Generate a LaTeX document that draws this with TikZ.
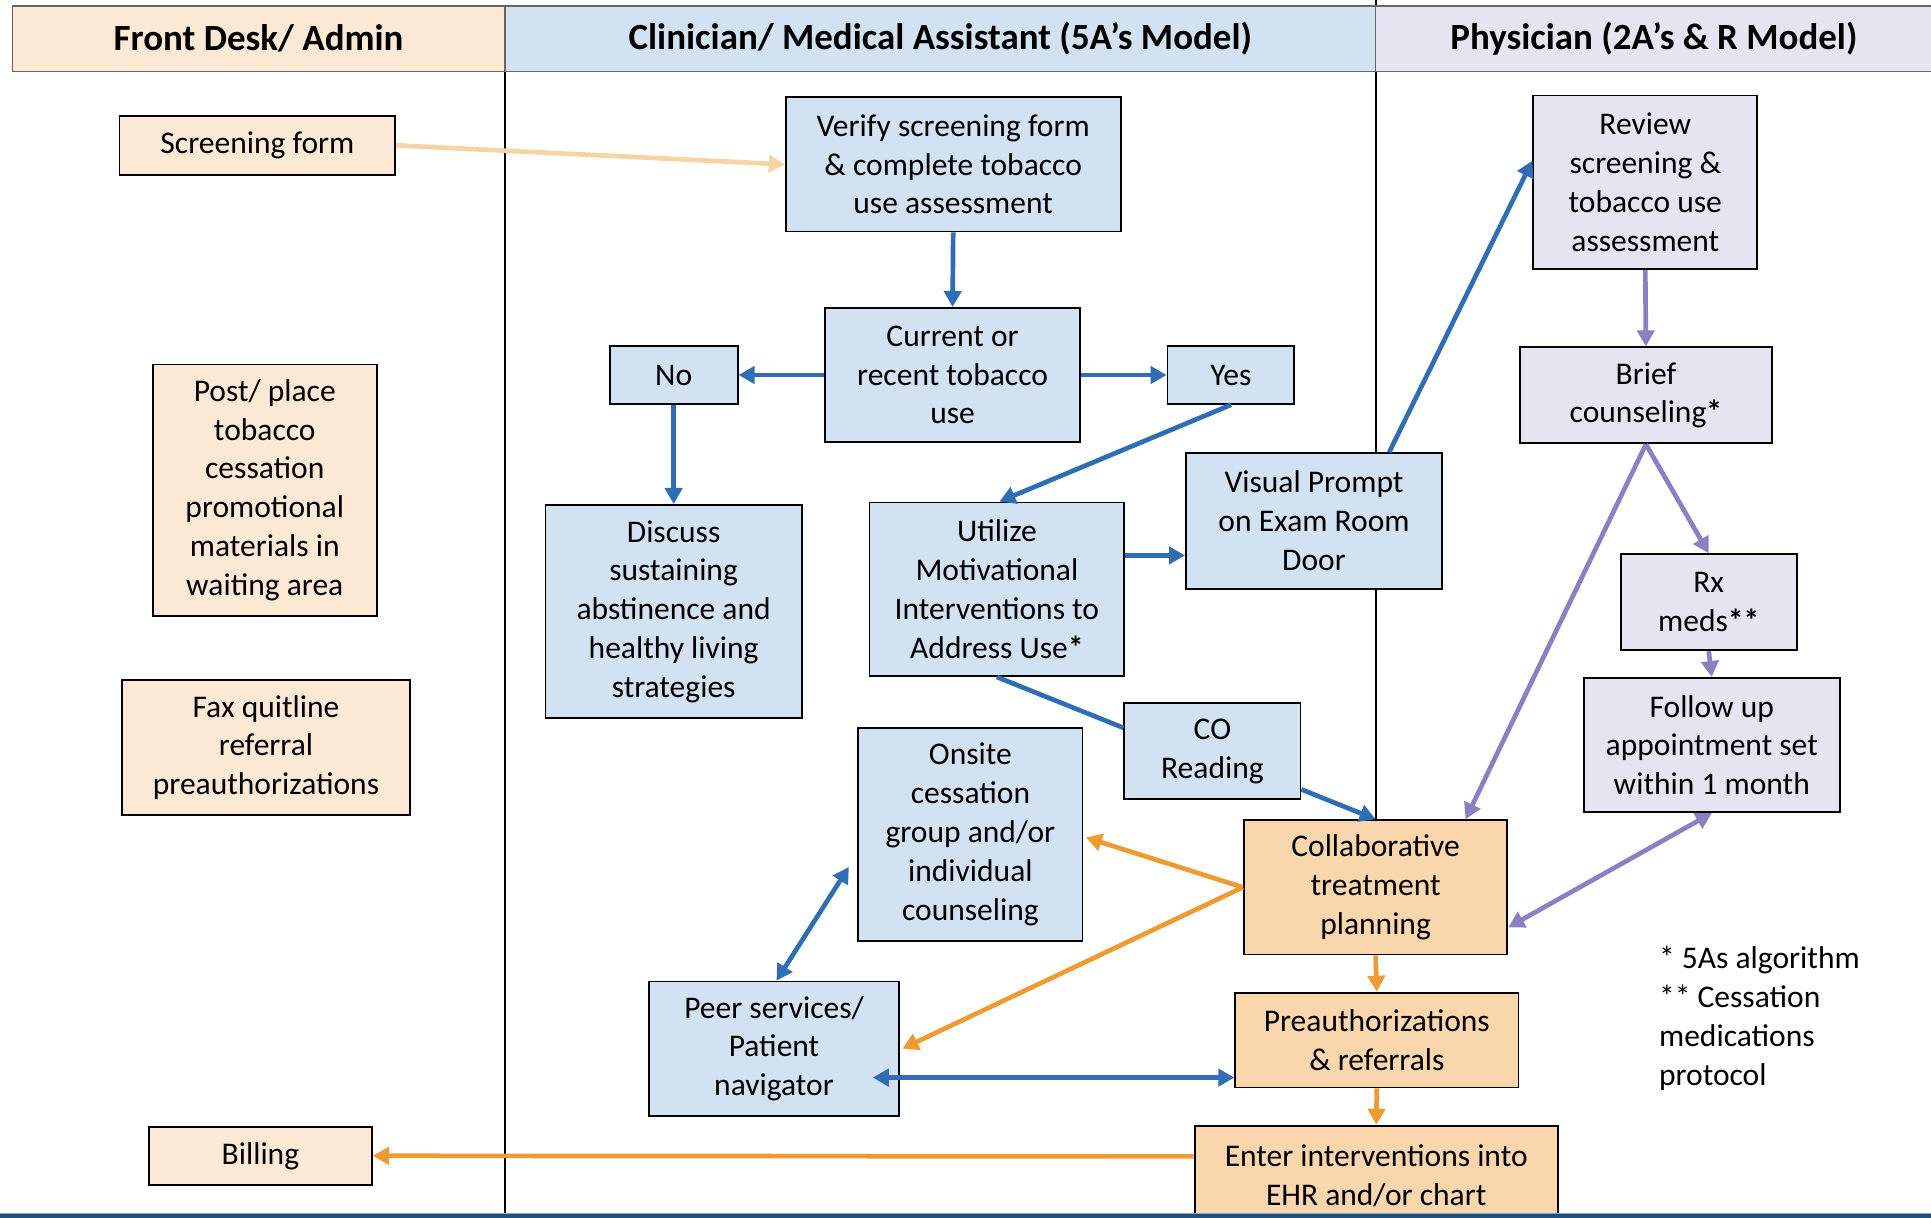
\documentclass[tikz,border=0pt]{standalone}
\usepackage{fontspec}
\setmainfont{Carlito}
\usetikzlibrary{arrows.meta}
\definecolor{peach}{HTML}{FCE9D5}
\definecolor{lblue}{HTML}{D3E2F2}
\definecolor{lav}{HTML}{E6E4F1}
\definecolor{orbox}{HTML}{F9D6AC}
\definecolor{barrow}{HTML}{2F6EB5}
\definecolor{oarrow}{HTML}{F09B32}
\definecolor{parrow}{HTML}{8A80C4}
\definecolor{pearrow}{HTML}{F8D3A5}
\definecolor{band}{HTML}{1F4E79}
\begin{document}
\begin{tikzpicture}[x=1pt,y=-1pt,
  bx/.style={draw=black, line width=1.5pt, inner sep=0pt, align=center, font=\fontsize{25.6}{31.5}\selectfont},
  hdr/.style={draw=black!60, line width=1.3pt, inner sep=0pt, font=\fontsize{30}{36}\selectfont\bfseries},
  ar/.style={line width=3.8pt, -{Triangle[length=13pt,width=14pt]}},
  biar/.style={line width=3.8pt, {Triangle[length=13pt,width=14pt]}-{Triangle[length=13pt,width=14pt]}},
  ln/.style={line width=3.8pt}]
\useasboundingbox (0,0) rectangle (1568,989);
\fill[white] (0,0) rectangle (1568,989);
% lane lines
\draw[line width=1.5pt] (410,5) -- (410,985);
\draw[line width=1.5pt] (1117,0) -- (1117,665);
% headers
\node[hdr, fill=peach, minimum width=400, minimum height=53] (h1) at (210,31.5) {Front Desk/ Admin};
\node[hdr, fill=lblue, minimum width=707, minimum height=53] (h2) at (763.5,31.5) {Clinician/ Medical Assistant (5A’s Model)};
\node[hdr, fill=lav, minimum width=452, minimum height=53] (h3) at (1343,31.5) {Physician (2A’s \& R Model)};
% front desk
\node[bx, fill=peach, minimum width=224, minimum height=48] (sf) at (209,118) {Screening form};
\node[bx, fill=peach, minimum width=182, minimum height=204] (post) at (215,398) {Post/ place\\tobacco\\cessation\\promotional\\materials in\\waiting area};
\node[bx, fill=peach, minimum width=234, minimum height=110] (fax) at (216,607) {Fax quitline\\referral\\preauthorizations};
\node[bx, fill=peach, minimum width=181, minimum height=47] (bill) at (211.5,938.5) {Billing};
% clinician
\node[bx, fill=lblue, minimum width=272, minimum height=109] (ver) at (774,133.5) {Verify screening form\\\& complete tobacco\\use assessment};
\node[bx, fill=lblue, minimum width=207, minimum height=109] (cur) at (773.5,304.5) {Current or\\recent tobacco\\use};
\node[bx, fill=lblue, minimum width=104, minimum height=47] (no) at (547,304.5) {No};
\node[bx, fill=lblue, minimum width=103, minimum height=47] (yes) at (999.5,304.5) {Yes};
\node[bx, fill=lblue, minimum width=208, minimum height=173] (disc) at (547,496.5) {Discuss\\sustaining\\abstinence and\\healthy living\\strategies};
\node[bx, fill=lblue, minimum width=207, minimum height=141] (util) at (809.5,478.5) {Utilize\\Motivational\\Interventions to\\Address Use\textbf{*}};
\node[bx, fill=lblue, minimum width=208, minimum height=110] (vis) at (1067,423) {Visual Prompt\\on Exam Room\\Door};
\node[bx, fill=lblue, minimum width=143, minimum height=78] (co) at (984.5,610) {CO\\Reading};
\node[bx, fill=lblue, minimum width=182, minimum height=173] (ons) at (788,677.5) {Onsite\\cessation\\group and/or\\individual\\counseling};
\node[bx, fill=lblue, minimum width=203, minimum height=109] (peer) at (628.5,851.5) {Peer services/\\Patient\\navigator};
% physician
\node[bx, fill=lav, minimum width=182, minimum height=141] (rev) at (1336,148) {Review\\screening \&\\tobacco use\\assessment};
\node[bx, fill=lav, minimum width=205, minimum height=78] (brief) at (1336.5,321) {Brief\\counseling\textbf{*}};
\node[bx, fill=lav, minimum width=143, minimum height=78] (rx) at (1387.5,489) {Rx\\meds\textbf{**}};
\node[bx, fill=lav, minimum width=208, minimum height=109] (fol) at (1390,605) {Follow up\\appointment set\\within 1 month};
% orange
\node[bx, fill=orbox, minimum width=214, minimum height=109] (col) at (1117,720.5) {Collaborative\\treatment\\planning};
\node[bx, fill=orbox, minimum width=230, minimum height=77] (pre) at (1118,844.5) {Preauthorizations\\\& referrals};
\node[bx, fill=orbox, minimum width=295, minimum height=81] (ent) at (1117.5,954.5) {Enter interventions into\\EHR and/or chart};
% footnote
\node[inner sep=0pt, align=left, anchor=west, font=\fontsize{25.6}{31.5}\selectfont] (fn) at (1347,827) {* 5As algorithm\\** Cessation\\medications\\protocol};
% arrows
\draw[ar, pearrow] (sf.east) -- (ver.west);
\draw[ar, barrow] (ver.south) -- (cur.north);
\draw[ar, barrow] (cur.west) -- (no.east);
\draw[ar, barrow] (cur.east) -- (yes.west);
\draw[ar, barrow] (no.south) -- (disc.north);
\draw[ar, barrow] (yes.south) -- ([xshift=2pt]util.north);
\draw[ar, barrow] ([yshift=27.5pt]util.east) -- ([yshift=-28pt]vis.west);
\draw[ar, barrow] ([xshift=61pt]vis.north) -- ([yshift=17.5pt]rev.west);
\draw[ln, barrow] (util.south) -- ([yshift=19pt]co.west);
\draw[ar, barrow] ([yshift=-31pt]co.east) -- (col.north);
\draw[ar, parrow] (rev.south) -- (brief.north);
\draw[ar, parrow] (brief.south) -- (rx.north);
\draw[ar, parrow] (brief.south) -- ([xshift=73pt]col.north);
\draw[ar, parrow] (rx.south) -- (fol.north);
\draw[biar, parrow] (fol.south) -- ([yshift=-32.5pt]col.east);
\draw[ar, oarrow] (col.west) -- ([xshift=2pt,yshift=-2.5pt]ons.east);
\draw[ar, oarrow] (col.west) -- ([xshift=2pt]peer.east);
\draw[biar, barrow] ([xshift=-7pt,yshift=-26.5pt]ons.west) -- ([xshift=2pt]peer.north);
\draw[biar, barrow] ([xshift=-22pt,yshift=-23.5pt]peer.east) -- ([yshift=-30.5pt]pre.west);
\draw[ar, oarrow] (col.south) -- (pre.north);
\draw[ar, oarrow] (pre.south) -- (ent.north);
\draw[ar, oarrow] ([yshift=15.5pt]ent.west) -- (bill.east);
% bottom band
\fill[band] (0,985) rectangle (1568,989);
\draw[line width=0.8pt, barrow!60] (0,985) -- (1568,985);
\end{tikzpicture}
\end{document}
